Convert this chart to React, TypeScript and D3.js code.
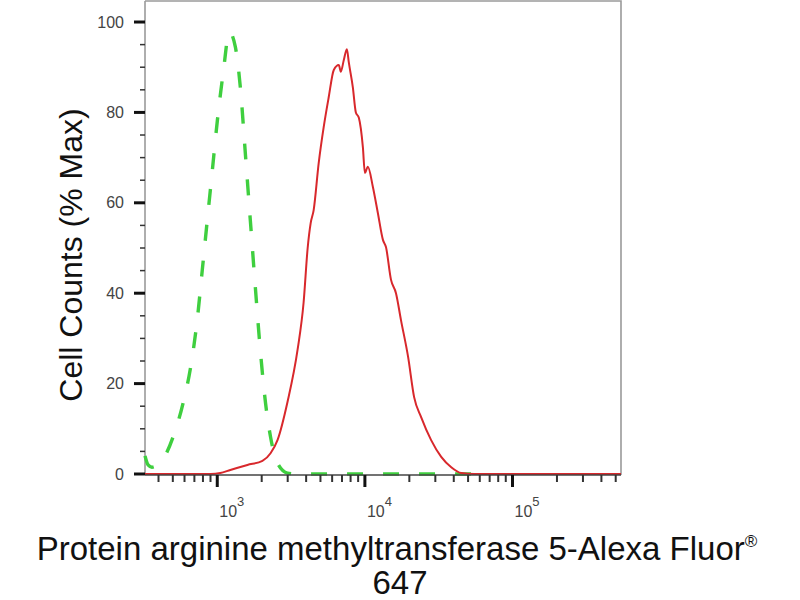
import React, { useEffect, useRef } from 'react';
import * as d3 from 'd3';

// isotype control (green, dashed)
const controlX = [324, 340, 361, 400, 423, 502, 587, 655, 731, 791, 855, 925, 1000, 1099, 1207, 1326, 1433, 1549, 1676, 1814, 1962, 2123, 2296, 2559, 2993, 3500, 60000];
const controlY = [4, 2, 1.5, 2.2, 3, 8.2, 15.7, 23, 34, 45, 56, 67, 78, 89, 97.8, 94.5, 85.6, 71, 56, 41, 27, 15.7, 8.2, 2.4, 0.2, 0, 0];

// PRMT5 stained sample (red, solid)
const sampleX = [324, 900, 1048, 1226, 1600, 2023, 2296, 2559, 2993, 3500, 3846, 4096, 4293, 4498, 4865, 5262, 5691, 6155, 6657, 6870, 7198, 7551, 7787, 8283, 8685, 9101, 9690, 10000, 10475, 11330, 12250, 13250, 13890, 15020, 16240, 17570, 19620, 21550, 24040, 28100, 32880, 38460, 44990, 55080, 543000];
const sampleY = [0, 0, 0.2, 0.9, 2, 2.9, 4.6, 7.5, 16, 27.5, 38, 50, 55.5, 58.4, 68.8, 76.8, 83.4, 89.4, 90.5, 89, 91.6, 94, 91, 85.6, 80, 78.8, 72.3, 66.6, 68, 63.5, 57.7, 51.8, 50.2, 43, 40, 34, 25.9, 17, 12.6, 7.5, 3.8, 1.5, 0.2, 0, 0];

const yTicks = [0, 20, 40, 60, 80, 100];
const xDecades = [3, 4, 5];
const xTitle = 'Protein arginine methyltransferase 5-Alexa Fluor';
const xTitle2 = '647';
const yTitle = 'Cell Counts (% Max)';

export default function App() {
  const svgRef = useRef<SVGSVGElement>(null);

  useEffect(() => {
    if (!svgRef.current) return;
    d3.select(svgRef.current).selectAll('*').remove();

    const left = 145, right = 621, top = 1, bottom = 474;
    const svg = d3.select(svgRef.current)
      .attr('width', 800)
      .attr('height', 600)
      .style('font-family', 'Arial, "Liberation Sans", Helvetica, sans-serif');

    svg.append('rect').attr('width', 800).attr('height', 600).attr('fill', '#fff');

    const x = d3.scaleLog().domain([324, 543000]).range([left, right]);
    const y = d3.scaleLinear().domain([0, 104.65]).range([bottom, top]);

    const plot = svg.append('g');

    // frame (top + right light grey)
    plot.append('path')
      .attr('d', `M${left},${top}H${right}V${bottom + 1}`)
      .attr('fill', 'none')
      .attr('stroke', '#9a9a9a')
      .attr('stroke-width', 1.6);
    plot.append('line')
      .attr('x1', left).attr('x2', left).attr('y1', top).attr('y2', bottom + 1)
      .attr('stroke', '#9a9a9a').attr('stroke-width', 1.6);

    // curves
    const line = d3.line<[number, number]>()
      .x(d => x(d[0]))
      .y(d => y(d[1]))
      .curve(d3.curveMonotoneX);

    plot.append('path')
      .datum(controlX.map((v, i) => [v, controlY[i]] as [number, number]))
      .attr('fill', 'none')
      .attr('stroke', '#3fcf3f')
      .attr('stroke-width', 3.4)
      .attr('stroke-dasharray', '16 20')
      .attr('d', line);

    plot.append('path')
      .datum(sampleX.map((v, i) => [v, sampleY[i]] as [number, number]))
      .attr('fill', 'none')
      .attr('stroke', '#d8282c')
      .attr('stroke-width', 2)
      .attr('d', line);

    // bottom axis line
    plot.append('line')
      .attr('x1', left).attr('x2', right).attr('y1', bottom + 1).attr('y2', bottom + 1)
      .attr('stroke', '#444').attr('stroke-width', 1.6);

    // y ticks
    const yMinor = d3.range(0, 101, 5).filter(v => v % 20 !== 0);
    plot.selectAll('.ymin').data(yMinor).enter().append('line')
      .attr('x1', left - 5).attr('x2', left)
      .attr('y1', d => y(d)).attr('y2', d => y(d))
      .attr('stroke', '#333').attr('stroke-width', 1.5);
    plot.selectAll('.ymaj').data(yTicks).enter().append('line')
      .attr('x1', left - 11).attr('x2', left)
      .attr('y1', d => y(d)).attr('y2', d => y(d))
      .attr('stroke', '#111').attr('stroke-width', 3);
    plot.selectAll('.ylab').data(yTicks).enter().append('text')
      .attr('x', 124)
      .attr('y', d => y(d))
      .attr('dy', '0.35em')
      .attr('text-anchor', 'end')
      .attr('font-size', 16)
      .attr('fill', '#444')
      .text(d => d);

    // x ticks (log decades)
    const [lo, hi] = x.domain();
    const minor: number[] = [];
    for (let e = 2; e <= 5; e++) {
      for (let m = 2; m <= 9; m++) {
        const v = m * Math.pow(10, e);
        if (v >= lo && v <= hi) minor.push(v);
      }
    }
    plot.selectAll('.xmin').data(minor).enter().append('line')
      .attr('x1', d => x(d)).attr('x2', d => x(d))
      .attr('y1', bottom + 1).attr('y2', bottom + 8)
      .attr('stroke', '#333').attr('stroke-width', 2);
    plot.selectAll('.xmaj').data(xDecades).enter().append('line')
      .attr('x1', d => x(Math.pow(10, d))).attr('x2', d => x(Math.pow(10, d)))
      .attr('y1', bottom + 1).attr('y2', bottom + 13)
      .attr('stroke', '#111').attr('stroke-width', 3);
    const xl = plot.selectAll('.xlab').data(xDecades).enter().append('text')
      .attr('x', d => x(Math.pow(10, d)) + 2)
      .attr('y', 517)
      .attr('font-size', 16)
      .attr('fill', '#444');
    xl.append('tspan').text('10');
    xl.append('tspan').attr('dy', -11).attr('font-size', 13).text(d => d);

    // x title, two lines in one text element
    const t = svg.append('text')
      .attr('x', 397).attr('y', 560)
      .attr('text-anchor', 'middle')
      .attr('font-size', 33)
      .attr('fill', '#111');
    t.append('tspan').text(xTitle);
    t.append('tspan').attr('dy', -13).attr('font-size', 17).text('®');
    t.append('tspan').attr('x', 400).attr('y', 594).text(xTitle2);

    svg.append('text')
      .attr('transform', 'translate(82,255) rotate(-90)')
      .attr('text-anchor', 'middle')
      .attr('font-size', 32)
      .attr('fill', '#111')
      .text(yTitle);
  }, []);

  return (
    <svg ref={svgRef} style={{ position: 'absolute', left: 0, top: 0 }}></svg>
  );
}
